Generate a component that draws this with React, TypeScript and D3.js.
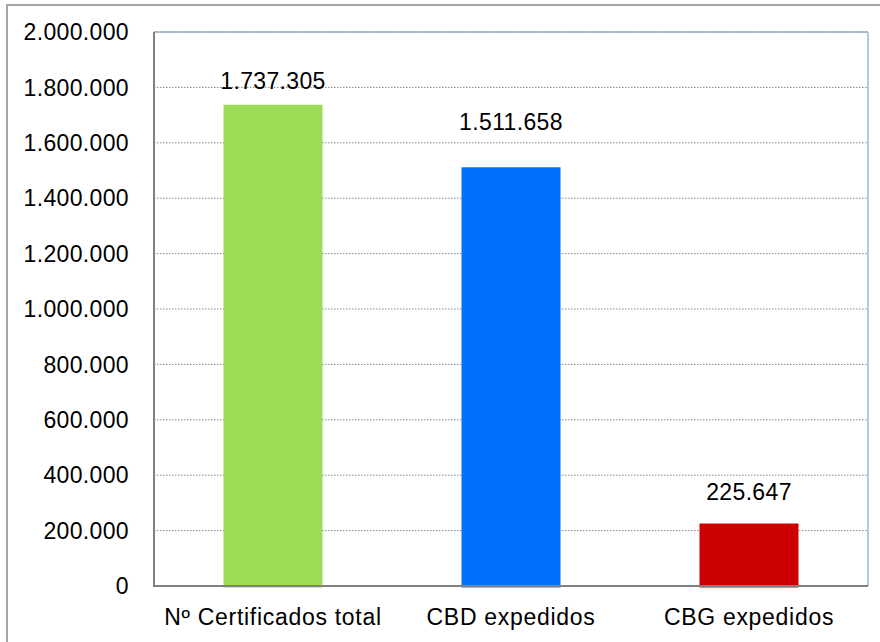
import React from "react";
import * as d3 from "d3";

const categories = ["Nº Certificados total", "CBD expedidos", "CBG expedidos"];
const values = [1737305, 1511658, 225647];
const barColors = ["#9ddd56", "#0070ff", "#cc0000"];
const yTicks = [0, 200000, 400000, 600000, 800000, 1000000, 1200000, 1400000, 1600000, 1800000, 2000000];
const labelLift = [16, 37, 23];

const W = 880;
const H = 642;
const left = 154;
const right = 868;
const top = 32;
const bottom = 586;

const fmt = (v: number) =>
  v === 0 ? "0" : d3.format(",")(v).replace(/,/g, ".");

export default function App() {
  const x = d3.scaleBand<string>().domain(categories).range([left, right]).paddingInner(0.584).paddingOuter(0.292);
  const y = d3.scaleLinear().domain([0, 2000000]).range([bottom, top]);
  const font = "'Liberation Sans', Arial, sans-serif";
  return (
    <div style={{ position: "absolute", left: 0, top: 0 }}>
      <svg width={W} height={H} style={{ display: "block", background: "#fff" }}>
        <rect x={7} y={5} width={W + 10} height={H + 10} fill="#fff" stroke="#a6a6a6" strokeWidth={2} />
        <line x1={left} x2={right} y1={top} y2={top} stroke="#b4c6e7" strokeWidth={2} />
        <line x1={right} x2={right} y1={top} y2={bottom} stroke="#b4c6e7" strokeWidth={2} />
        {yTicks.filter((t) => t > 0).map((t) => (
          <line key={t} x1={left} x2={right - 1} y1={y(t)} y2={y(t)} stroke="#888" strokeWidth={1} strokeDasharray="1.5,1.5" />
        ))}
        {categories.map((c, i) => (
          <rect key={c} x={x(c)} y={y(values[i])} width={x.bandwidth()} height={bottom + 1.5 - y(values[i])} fill={barColors[i]} />
        ))}
        <line x1={left} x2={left} y1={top} y2={bottom} stroke="#808080" strokeWidth={2} />
        <line x1={left - 1} x2={right} y1={bottom} y2={bottom} stroke="#808080" strokeWidth={2} />
        {yTicks.map((t) => (
          <text key={t} x={129} y={y(t)} dy="0.36em" textAnchor="end" fontFamily={font} fontSize={23} letterSpacing={0.35} fill="#000">
            {fmt(t)}
          </text>
        ))}
        {categories.map((c, i) => (
          <text key={c} x={(x(c) as number) + x.bandwidth() / 2} y={625} textAnchor="middle" fontFamily={font} fontSize={23} letterSpacing={0.7} fill="#000">
            {c}
          </text>
        ))}
        {categories.map((c, i) => (
          <text key={c} x={(x(c) as number) + x.bandwidth() / 2} y={y(values[i]) - labelLift[i]} textAnchor="middle" fontFamily={font} fontSize={23} letterSpacing={0.35} fill="#000">
            {fmt(values[i])}
          </text>
        ))}
      </svg>
    </div>
  );
}
